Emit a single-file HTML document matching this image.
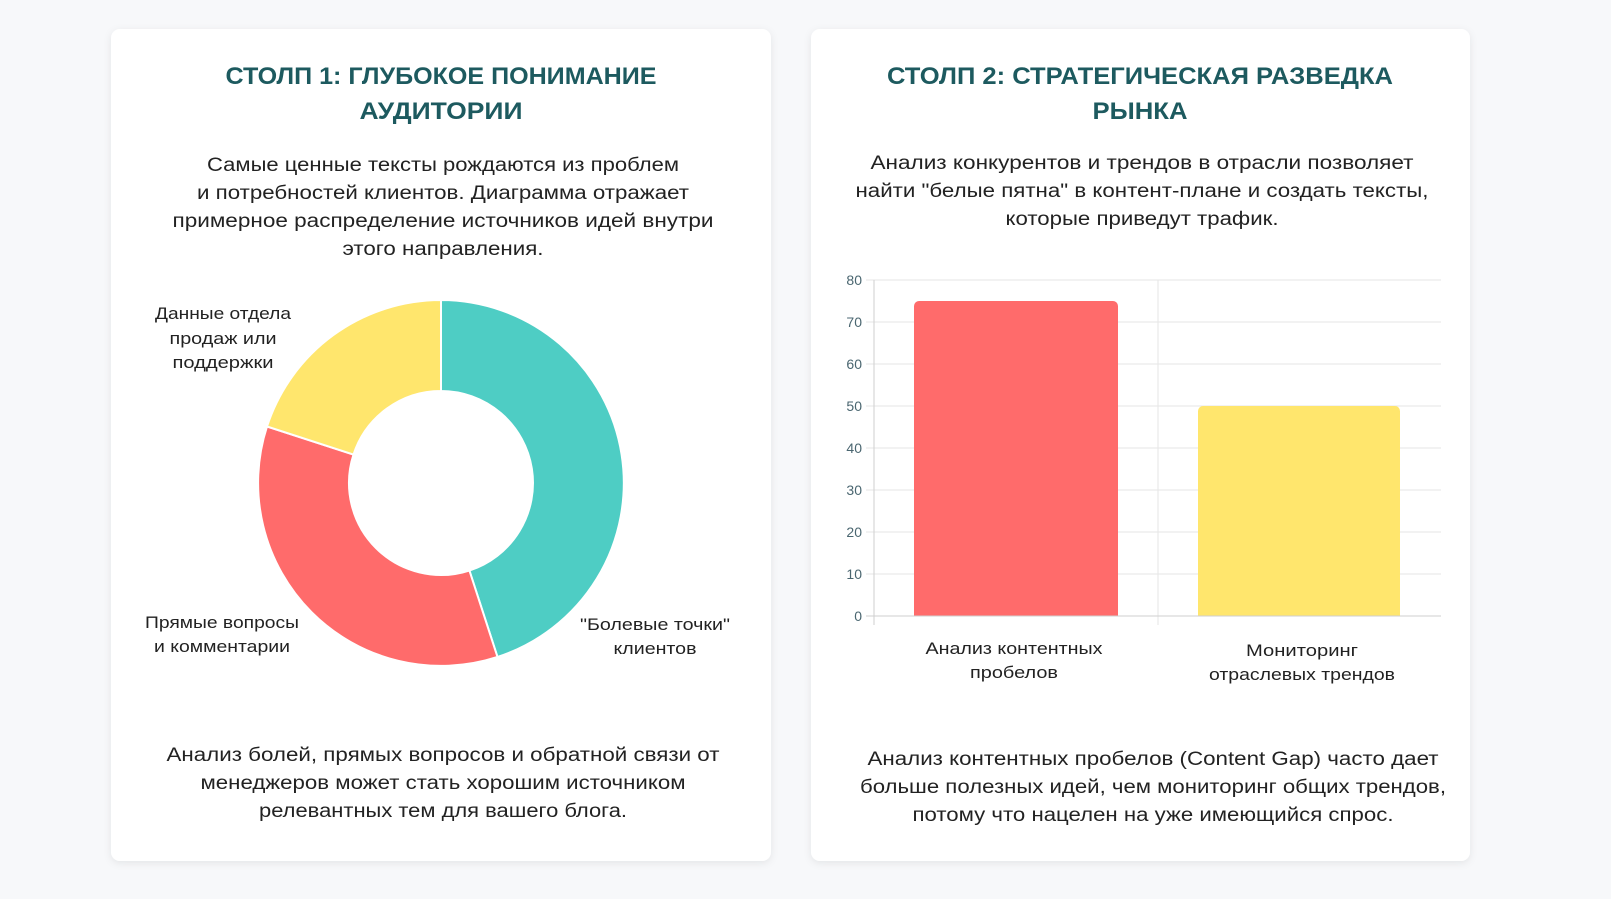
<!DOCTYPE html>
<html><head><meta charset="utf-8"><style>
html,body{margin:0;padding:0;background:#f7f8fa;}
svg{display:block;font-family:"Liberation Sans","DejaVu Sans",sans-serif;}
</style></head><body>
<svg width="1611" height="899" viewBox="0 0 1611 899" xmlns="http://www.w3.org/2000/svg">
<defs><filter id="sh" x="-5%" y="-5%" width="110%" height="110%"><feDropShadow dx="0" dy="2" stdDeviation="4" flood-color="#000" flood-opacity="0.08"/></filter></defs>
<rect width="1611" height="899" fill="#f7f8fa"/>
<rect x="111" y="29" width="660" height="832" rx="9" fill="#fff" filter="url(#sh)"/>
<rect x="811" y="29" width="659" height="832" rx="9" fill="#fff" filter="url(#sh)"/>

<g fill="#1d5a5f" font-weight="bold" font-size="24" text-anchor="middle">
<text x="441" y="84" textLength="431" lengthAdjust="spacingAndGlyphs">СТОЛП 1: ГЛУБОКОЕ ПОНИМАНИЕ</text>
<text x="441" y="119" textLength="163" lengthAdjust="spacingAndGlyphs">АУДИТОРИИ</text>
<text x="1140" y="84" textLength="506" lengthAdjust="spacingAndGlyphs">СТОЛП 2: СТРАТЕГИЧЕСКАЯ РАЗВЕДКА</text>
<text x="1140" y="119" textLength="95" lengthAdjust="spacingAndGlyphs">РЫНКА</text>
</g>

<g fill="#222" font-size="19" text-anchor="middle">
<text x="443" y="171" textLength="472" lengthAdjust="spacingAndGlyphs">Самые ценные тексты рождаются из проблем</text>
<text x="443" y="199" textLength="492" lengthAdjust="spacingAndGlyphs">и потребностей клиентов. Диаграмма отражает</text>
<text x="443" y="227" textLength="541" lengthAdjust="spacingAndGlyphs">примерное распределение источников идей внутри</text>
<text x="443" y="255" textLength="201" lengthAdjust="spacingAndGlyphs">этого направления.</text>

<text x="1142" y="169" textLength="543" lengthAdjust="spacingAndGlyphs">Анализ конкурентов и трендов в отрасли позволяет</text>
<text x="1142" y="197" textLength="573" lengthAdjust="spacingAndGlyphs">найти "белые пятна" в контент-плане и создать тексты,</text>
<text x="1142" y="225" textLength="273" lengthAdjust="spacingAndGlyphs">которые приведут трафик.</text>

<text x="443" y="761" textLength="553" lengthAdjust="spacingAndGlyphs">Анализ болей, прямых вопросов и обратной связи от</text>
<text x="443" y="789" textLength="485" lengthAdjust="spacingAndGlyphs">менеджеров может стать хорошим источником</text>
<text x="443" y="817" textLength="368" lengthAdjust="spacingAndGlyphs">релевантных тем для вашего блога.</text>

<text x="1153" y="765" textLength="571" lengthAdjust="spacingAndGlyphs">Анализ контентных пробелов (Content Gap) часто дает</text>
<text x="1153" y="793" textLength="586" lengthAdjust="spacingAndGlyphs">больше полезных идей, чем мониторинг общих трендов,</text>
<text x="1153" y="821" textLength="481" lengthAdjust="spacingAndGlyphs">потому что нацелен на уже имеющийся спрос.</text>
</g>

<!-- Donut -->
<g stroke="#fff" stroke-width="2">
<path d="M441,300 A183,183 0 0 1 497.5,657 L469.4,570.5 A92,92 0 0 0 441,391 Z" fill="#4ecdc4"/>
<path d="M497.5,657 A183,183 0 0 1 267,426.5 L353.5,454.6 A92,92 0 0 0 469.4,570.5 Z" fill="#ff6b6b"/>
<path d="M267,426.5 A183,183 0 0 1 441,300 L441,391 A92,92 0 0 0 353.5,454.6 Z" fill="#ffe66d"/>
</g>
<g fill="#222" font-size="17" text-anchor="middle">
<text x="223" y="319" textLength="136" lengthAdjust="spacingAndGlyphs">Данные отдела</text>
<text x="223" y="344" textLength="107" lengthAdjust="spacingAndGlyphs">продаж или</text>
<text x="223" y="368" textLength="101" lengthAdjust="spacingAndGlyphs">поддержки</text>
<text x="222" y="628" textLength="154" lengthAdjust="spacingAndGlyphs">Прямые вопросы</text>
<text x="222" y="652" textLength="136" lengthAdjust="spacingAndGlyphs">и комментарии</text>
<text x="655" y="630" textLength="150" lengthAdjust="spacingAndGlyphs">"Болевые точки"</text>
<text x="655" y="654" textLength="83" lengthAdjust="spacingAndGlyphs">клиентов</text>
</g>

<!-- Bar chart -->
<g stroke="#e6e6e6" stroke-width="1">
<line x1="866" y1="280" x2="1441" y2="280"/>
<line x1="866" y1="322" x2="1441" y2="322"/>
<line x1="866" y1="364" x2="1441" y2="364"/>
<line x1="866" y1="406" x2="1441" y2="406"/>
<line x1="866" y1="448" x2="1441" y2="448"/>
<line x1="866" y1="490" x2="1441" y2="490"/>
<line x1="866" y1="532" x2="1441" y2="532"/>
<line x1="866" y1="574" x2="1441" y2="574"/>
<line x1="1158" y1="280" x2="1158" y2="625"/>
</g>
<rect x="914" y="301" width="204" height="315" rx="5" fill="#ff6b6b"/>
<rect x="914" y="606" width="204" height="10" fill="#ff6b6b"/>
<rect x="1198" y="406" width="202" height="210" rx="5" fill="#ffe66d"/>
<rect x="1198" y="600" width="202" height="16" fill="#ffe66d"/>
<g stroke="#cfcfcf" stroke-width="1">
<line x1="874" y1="280" x2="874" y2="625"/>
<line x1="866" y1="616" x2="1441" y2="616"/>
</g>
<g fill="#4a6670" font-size="14" text-anchor="end">
<text x="862" y="285">80</text>
<text x="862" y="327">70</text>
<text x="862" y="369">60</text>
<text x="862" y="411">50</text>
<text x="862" y="453">40</text>
<text x="862" y="495">30</text>
<text x="862" y="537">20</text>
<text x="862" y="579">10</text>
<text x="862" y="621">0</text>
</g>
<g fill="#222" font-size="17" text-anchor="middle">
<text x="1014" y="654" textLength="177" lengthAdjust="spacingAndGlyphs">Анализ контентных</text>
<text x="1014" y="678" textLength="88" lengthAdjust="spacingAndGlyphs">пробелов</text>
<text x="1302" y="656" textLength="112" lengthAdjust="spacingAndGlyphs">Мониторинг</text>
<text x="1302" y="680" textLength="186" lengthAdjust="spacingAndGlyphs">отраслевых трендов</text>
</g>
</svg>
</body></html>
